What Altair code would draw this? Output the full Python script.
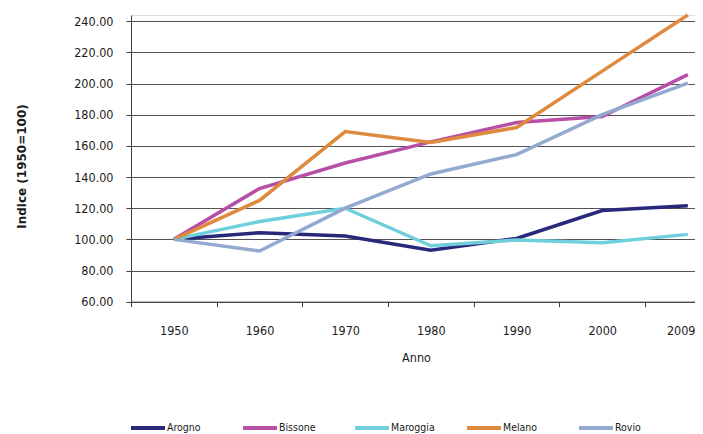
import altair as alt
import pandas as pd

years = ["1950", "1960", "1970", "1980", "1990", "2000", "2009"]
names = ["Arogno", "Bissone", "Maroggia", "Melano", "Rovio"]
arogno = [100, 104.3, 102.2, 93.1, 100.6, 118.5, 121.5]
bissone = [100, 132.6, 149.0, 162.6, 175.0, 178.8, 205.7]
maroggia = [100, 111.5, 120.0, 95.9, 99.6, 97.8, 103.2]
melano = [100, 125.0, 169.2, 162.2, 171.8, 208.0, 244.0]
rovio = [100, 92.5, 120.0, 142.0, 154.4, 180.0, 200.3]
colors = ["#29297b", "#b74fa6", "#6fcfdc", "#de8a3f", "#93a9cf"]
y_ticks = [60, 80, 100, 120, 140, 160, 180, 200, 220, 240]

series = dict(zip(names, [arogno, bissone, maroggia, melano, rovio]))
rows = []
for name, vals in series.items():
    for i, (yr, v) in enumerate(zip(years, vals)):
        rows.append({"Comune": name, "i": i, "Anno": yr, "Indice": v})
df = pd.DataFrame(rows)

FONT = "'DejaVu Sans Condensed', sans-serif"
band_px = 85.67
plot_w = 564
n = len(years)
label_expr = "[" + ",".join(f"'{y}'" for y in years) + "][round(datum.value + 0.5)]"
last_tick = n - 1.5

x = alt.X(
    "i:Q",
    scale=alt.Scale(domain=[-0.5, -0.5 + plot_w / band_px], nice=False, zero=False),
    axis=alt.Axis(
        values=[k - 0.5 for k in range(n)],
        labelExpr=label_expr,
        labelOffset=alt.ExprRef(f"datum.value > {last_tick - 0.5} ? 50 : {band_px / 2}"),
        labelAlign=alt.ExprRef(f"datum.value > {last_tick - 0.5} ? 'right' : 'center'"),
        labelFlush=False,
        labelOverlap=False,
        labelBound=False,
        grid=False,
        tickSize=5,
        labelPadding=18,
        labelFont=FONT,
        labelFontSize=12.5,
        labelColor="#1a1a1a",
        title="Anno",
        titleFont=FONT,
        titleFontSize=12.5,
        titleFontWeight="normal",
        titleColor="#1a1a1a",
        titleX=285,
        titlePadding=14,
        domainColor="#404040",
        tickColor="#404040",
    ),
)
y = alt.Y(
    "Indice:Q",
    scale=alt.Scale(domain=[60, 244], nice=False, zero=False),
    axis=alt.Axis(
        values=y_ticks,
        format=".2f",
        tickSize=5,
        labelPadding=13,
        labelFont=FONT,
        labelFontSize=12.5,
        labelColor="#1a1a1a",
        grid=True,
        gridColor="#505050",
        gridWidth=1,
        domainColor="#404040",
        tickColor="#404040",
        title="Indice (1950=100)",
        titleFont="DejaVu Sans",
        titleFontSize=12,
        titleFontWeight="bold",
        titleColor="#1a1a1a",
        titleX=-110,
        titleY=151,
        titleBaseline="middle",
    ),
)

chart = (
    alt.Chart(df)
    .mark_line(strokeWidth=3.5)
    .encode(
        x=x,
        y=y,
        color=alt.Color(
            "Comune:N",
            scale=alt.Scale(domain=names, range=colors),
            legend=alt.Legend(
                orient="none",
                legendX=-2,
                legendY=394,
                direction="horizontal",
                columns=5,
                gridAlign="all",
                title=None,
                symbolType="stroke",
                symbolSize=1156,
                symbolStrokeWidth=4,
                labelFont=FONT,
                labelFontSize=10.5,
                labelColor="#1a1a1a",
                labelOffset=0,
                columnPadding=24,
                padding=0,
            ),
        ),
        detail="Comune:N",
    )
    .properties(
        width=plot_w,
        height=286.7,
        autosize=alt.AutoSizeParams(type="none"),
        padding={"left": 123, "top": 7, "right": 0, "bottom": 132},
    )
    .configure_view(strokeWidth=0)
    .configure(background="white")
)

chart.save("out.html", embed_options={"renderer": "svg", "actions": False})
